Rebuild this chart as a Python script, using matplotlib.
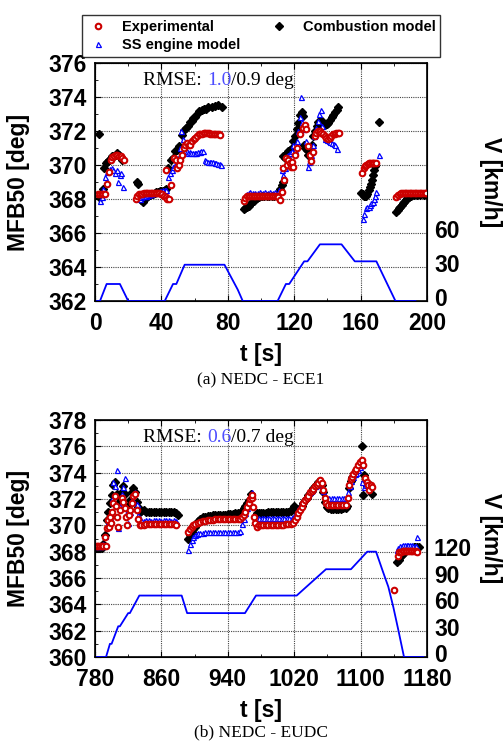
import matplotlib.pyplot as plt
from matplotlib.ticker import MultipleLocator, FixedLocator
from matplotlib.transforms import ScaledTranslation

# ---- (a) NEDC - ECE1 ----
ece_exp = [(2, 368.3), (3, 368.3), (4, 368.3), (5, 368.3), (6, 368.3), (7.5, 368.9), (8.5, 369.6), (9.5, 370.3),
           (10.5, 370.45), (11.5, 370.5), (12.5, 370.6), (13.5, 370.6), (14.5, 370.55), (15.5, 370.5), (16.5, 370.4),
           (17.5, 370.3),
           (24.5, 368.0), (25.5, 368.2), (26.5, 368.3), (27.5, 368.3), (28.5, 368.3), (29.5, 368.35), (30.5, 368.35),
           (31.5, 368.35), (32.5, 368.35), (33.5, 368.35), (34.5, 368.35), (35.5, 368.35), (36.5, 368.35),
           (37.5, 368.35), (38.5, 368.35), (39.5, 368.3), (40.5, 368.3), (41.5, 368.2), (42.5, 368.1), (43.5, 368.0),
           (44.5, 368.0), (45.8, 368.8),
           (42.8, 369.7), (47.5, 370.4), (48.5, 370.3), (49.5, 369.8), (50.5, 370.0), (51.5, 370.3), (52.5, 370.6),
           (53.5, 371.0), (54.5, 371.2), (55.5, 371.3), (56.5, 371.2), (57.5, 371.2), (58.5, 371.4), (59.5, 371.5),
           (60.5, 371.6), (61.5, 371.7), (62.5, 371.8), (63.5, 371.8), (64.5, 371.85), (65.5, 371.9), (66.5, 371.9),
           (67.5, 371.9), (68.5, 371.9), (69.5, 371.85), (70.5, 371.85), (71.5, 371.85), (72.5, 371.8),
           (73.5, 371.85), (74.5, 371.8), (75.5, 371.75),
           (89.5, 367.9), (90.5, 368.05), (91.5, 368.15), (92.5, 368.2), (93.5, 368.2), (94.5, 368.2), (95.5, 368.2),
           (96.5, 368.2), (97.5, 368.2), (98.5, 368.2), (99.5, 368.2), (100.5, 368.2), (101.5, 368.2), (102.5, 368.2),
           (103.5, 368.2), (104.5, 368.2), (105.5, 368.2), (106.5, 368.2), (107.5, 368.2), (108.5, 368.2),
           (109.5, 368.2), (110.5, 368.1), (111.5, 367.95), (112.5, 368.4),
           (113.3, 369.8), (114, 369.1), (115, 370.4), (115.7, 370.0), (116.5, 370.3), (117.3, 370.1), (118, 369.9),
           (118.8, 370.2), (119.5, 369.9), (120.4, 370.6), (121.4, 371.0), (123.4, 371.8), (125, 372.2),
           (126.4, 372.35), (127.4, 372.1), (128.4, 371.1), (129.4, 370.6), (130.4, 370.25), (131.4, 370.75),
           (132.4, 371.7), (133.4, 371.9), (134.4, 372.0), (135.4, 372.0), (136.4, 371.9), (137.4, 371.8),
           (138.4, 371.7), (139.4, 371.6), (140.4, 371.5), (141.4, 371.6), (142.4, 371.7), (143.4, 371.8),
           (144.4, 371.85), (145.4, 371.9), (146.4, 371.9), (147.2, 371.9),
           (161, 369.5), (161.8, 369.8), (162.6, 369.95), (163.4, 370.0), (164.2, 370.05), (165, 370.1),
           (165.8, 370.1), (166.6, 370.1), (167.4, 370.1), (168.2, 370.1), (169, 370.1),
           (181.3, 368.1), (182.5, 368.25), (183.5, 368.3), (184.5, 368.35), (185.5, 368.35), (186.5, 368.35),
           (187.5, 368.35), (188.5, 368.35), (189.5, 368.35), (190.5, 368.35), (191.5, 368.35), (192.5, 368.35),
           (193.5, 368.35), (194.5, 368.35), (195.5, 368.35), (196.5, 368.35), (197.5, 368.35), (198.5, 368.35),
           (199.5, 368.35)]

ece_comb = [(2.5, 371.8), (3, 368.05), (4, 368.3), (5, 368.6), (5.6, 369.8), (6.5, 370.1), (7.5, 370.2), (8.5, 370.3),
            (9.5, 370.4), (10.5, 370.5), (11.5, 370.55), (12.5, 370.6), (13.5, 370.7), (14.5, 370.6),
            (15.5, 370.45), (16.5, 370.3),
            (25, 369.0), (26, 368.9), (28, 367.95), (29, 367.85), (30, 368.0), (31, 368.1), (32, 368.2),
            (33, 368.25), (34, 368.3), (35, 368.3), (36, 368.35), (37, 368.4), (38, 368.4), (39, 368.45),
            (40, 368.45), (41, 368.45), (42, 368.5), (43, 368.6),
            (44.2, 369.8), (45.6, 370.3), (47.2, 370.4), (48.2, 370.8), (49.6, 370.9), (50.8, 371.1), (52.2, 371.75),
            (53.6, 372.05), (54.8, 372.15), (56.2, 372.3), (57.2, 372.5), (58.2, 372.6), (59.2, 372.75),
            (60.2, 372.8), (61.2, 373.0), (62.6, 373.2), (64.3, 373.25), (65.7, 373.3), (66.9, 373.3),
            (68.3, 373.4), (70.3, 373.4), (72.3, 373.45), (74.3, 373.5), (76.3, 373.4),
            (89.5, 367.4), (90.5, 367.45), (91.5, 367.5), (92.5, 367.6), (93.5, 367.7), (94.5, 367.8), (95.5, 367.9),
            (96.5, 368.0), (97.5, 368.05), (98.5, 368.1), (99.5, 368.15), (100.5, 368.2), (102, 368.2),
            (103.5, 368.2), (105, 368.2), (106.5, 368.2), (108, 368.2), (109.5, 368.25), (110.5, 368.35),
            (111.5, 368.6), (112.5, 368.8), (113.2, 369.0),
            (113.5, 370.5), (114.5, 370.4), (115.5, 370.7), (116.5, 370.8), (117.5, 370.9), (118.5, 371.0),
            (119.5, 371.4), (120.5, 371.7), (121.5, 372.1), (122.5, 372.45), (123.5, 372.95), (124.5, 373.1),
            (125.5, 372.9), (125.8, 371.2), (126.5, 371.0), (127.5, 370.9), (128.5, 370.6), (129.5, 370.9),
            (130.5, 371.2), (131.5, 371.7), (132.5, 372.0), (133.5, 372.3), (134.5, 372.55), (135.5, 372.6),
            (136.5, 372.6), (137.5, 372.45), (138.5, 372.35), (139.5, 372.4), (140.5, 372.45), (141.5, 372.65),
            (142.5, 372.8), (143.5, 372.95), (144.5, 373.1), (145.5, 373.25), (146.5, 373.4),
            (160.5, 368.35), (161.3, 368.3), (162, 368.2), (162.7, 368.15), (163.4, 368.2), (164.1, 368.3),
            (164.8, 368.5), (165.5, 368.7), (166.2, 368.9), (166.9, 369.1), (167.6, 369.4), (168.2, 369.7),
            (168.8, 369.95), (171.3, 372.55),
            (181.5, 367.25), (182.3, 367.35), (183.1, 367.45), (183.9, 367.55), (184.7, 367.65), (185.5, 367.75),
            (186.3, 367.85), (187.1, 367.95), (188, 368.05), (189, 368.1), (190.5, 368.2), (192, 368.25),
            (194, 368.25), (196, 368.25), (198, 368.25), (200, 368.25)]

ece_ss = [(3, 367.9), (4, 368.1), (5, 368.6), (6, 369.3), (7, 369.6), (8, 369.65), (9, 369.75), (10, 369.8),
          (11, 369.7), (12, 369.5), (13, 369.7), (14, 369.0), (15, 369.4), (15.6, 369.55), (17, 368.7),
          (27, 368.0), (28, 368.1), (29, 368.15), (30, 368.2), (31, 368.2), (32, 368.25), (33, 368.3), (34, 368.3),
          (35, 368.35), (36, 368.35), (37, 368.4), (38, 368.4), (39, 368.45), (40, 368.45), (41, 368.5),
          (42, 368.5), (43, 368.55),
          (44.2, 369.3), (45.2, 369.5), (46.2, 369.7), (47.2, 369.9), (48.2, 370.0), (49.2, 370.1), (50.2, 370.4),
          (51.2, 371.0), (52, 372.0), (52.8, 371.5), (53.6, 371.1), (54.4, 370.9), (55.2, 370.8), (56, 370.7),
          (57, 370.75), (58, 370.7), (59, 370.7), (60, 370.7), (61, 370.7), (62, 370.75), (63, 370.75),
          (64, 370.85), (65, 370.8), (66, 370.3), (67, 370.25), (68, 370.2), (69, 370.2), (70, 370.15),
          (71, 370.15), (72, 370.1), (73, 370.1), (74, 370.05), (75, 370.05), (76, 370.0),
          (89.5, 368.1), (90.5, 368.2), (91.5, 368.3), (92.5, 368.35), (93.5, 368.4), (95, 368.35), (96.5, 368.35),
          (98, 368.35), (99.5, 368.4), (101, 368.35), (102.5, 368.4), (104, 368.35), (105.5, 368.4), (107, 368.35),
          (108.5, 368.4), (110, 368.35), (111, 368.5),
          (112.5, 369.7), (113.4, 369.4), (114.4, 369.85), (115.4, 370.5), (116.4, 370.6), (117.4, 370.7),
          (118.4, 370.8), (119.4, 371.2), (120.4, 370.9), (121.4, 371.4), (122.4, 372.0), (123.4, 372.8),
          (124.3, 374.0), (124.9, 372.5), (125.6, 372.1), (126.5, 372.3), (127.3, 371.4), (128.3, 369.9),
          (129.2, 370.2), (130.2, 370.6), (131.2, 371.2), (132.2, 371.7), (133.2, 372.2), (134.2, 372.6),
          (135.2, 373.0), (135.9, 373.25), (136.8, 372.3), (137.8, 371.8), (138.8, 371.5), (139.8, 371.45),
          (140.8, 371.4), (141.8, 371.35), (142.8, 371.3), (143.8, 371.25), (144.8, 371.2), (146, 370.95),
          (171.3, 370.6),
          (161.2, 366.8), (162.2, 367.1), (163.2, 367.45), (164, 367.5), (164.8, 367.55), (165.6, 367.65),
          (166.4, 367.75), (167.2, 367.85), (168, 368.0), (168.7, 368.2), (169.5, 368.4),
          (181.5, 368.2), (182.5, 368.3), (184, 368.35), (186, 368.4), (188, 368.4), (190, 368.4), (192, 368.4),
          (194, 368.4), (196, 368.4), (198, 368.4), (200, 368.4)]

ece_speed_t = [0, 3, 7, 15, 20, 42, 47, 49, 54, 78, 86, 89, 110, 115, 117, 126, 128, 135.5, 148.5, 156.5, 169.5, 181, 193]
ece_speed = [0, 0, 15, 15, 0, 0, 15, 15, 32, 32, 10, 0, 0, 15, 15, 35, 35, 50, 50, 35, 35, 0, 0]

# ---- (b) NEDC - EUDC ----
eudc_exp = [(780, 368.4), (782, 368.4), (784, 368.4), (786, 368.4), (788, 368.4), (790, 368.4), (792, 369.1),
            (793, 368.4), (794, 369.8), (796, 370.4), (797, 369.9), (798, 370.65), (799, 370.2), (800, 371.0),
            (802, 371.7), (804, 372.2), (805, 371.5), (807, 370.65), (808, 369.9), (810, 371.2), (812, 372.05),
            (814, 371.8), (816, 371.3), (817, 370.6), (819, 370.0), (821, 370.8), (822, 371.2), (824, 371.7),
            (826, 372.2), (828, 372.4), (830, 371.2), (832, 370.5), (834, 370.0),
            (836, 370.05), (839, 370.05), (842, 370.1), (845, 370.1), (848, 370.1), (851, 370.1), (854, 370.1),
            (857, 370.1), (860, 370.1), (863, 370.1), (866, 370.1), (869, 370.1), (872, 370.1), (875, 370.1),
            (878, 370.05),
            (892.6, 369.5), (894.6, 369.75), (896.6, 369.9), (898.6, 370.0), (901, 370.1), (904, 370.2),
            (907, 370.25), (910, 370.3), (913, 370.35), (916, 370.4), (919, 370.4), (922, 370.4), (925, 370.45),
            (928, 370.45), (931, 370.45), (934, 370.45), (937, 370.45), (940, 370.45), (943, 370.45),
            (946, 370.45), (949, 370.45), (952, 370.5), (955, 370.5), (957, 370.6), (959, 370.8), (961, 371.0),
            (963, 371.4), (965, 371.7), (967, 372.0), (968.8, 372.1), (969.5, 372.3), (970.7, 371.4),
            (971.6, 370.65), (973, 370.2), (974.8, 369.9), (977, 370.0), (980, 370.0), (983, 370.0),
            (986, 370.05), (989, 370.05), (992, 370.05), (995, 370.05), (998, 370.05), (1001, 370.05),
            (1004, 370.05), (1007, 370.05), (1010, 370.1), (1013, 370.1), (1016, 370.1), (1019, 370.15),
            (1021, 370.4), (1023, 370.65), (1025, 370.9), (1027, 371.15), (1029, 371.4), (1031, 371.7),
            (1033, 371.9), (1035, 372.05), (1037, 372.25), (1039, 372.5), (1041, 372.6), (1043, 372.75),
            (1045, 373.0), (1047, 373.1), (1049, 373.25), (1051, 373.45), (1053, 373.2), (1055, 372.7),
            (1057, 372.05), (1058.3, 371.7), (1061, 371.55), (1064, 371.55), (1067, 371.55), (1070, 371.55),
            (1073, 371.55), (1076, 371.55), (1079, 371.55), (1082, 371.55), (1085, 372.1), (1086.4, 373.1),
            (1088, 373.5), (1089.3, 373.7), (1091, 373.9), (1093.2, 374.1), (1095, 374.3), (1097.2, 374.6),
            (1099, 374.8), (1101.3, 374.95), (1103, 374.6), (1105.3, 373.6), (1107.3, 373.3), (1109.3, 373.05),
            (1110.5, 372.7), (1112, 373.1), (1113.4, 372.9),
            (1140.2, 365.1),
            (1145.4, 367.7), (1146.5, 368.0), (1148.5, 368.0), (1150.5, 368.05), (1152.5, 368.05),
            (1154.5, 368.05), (1156.5, 368.05), (1158.5, 368.05), (1160.5, 368.05), (1162.5, 368.05),
            (1164.5, 368.05), (1166.5, 368.05), (1168.5, 368.0)]

eudc_comb = [(780, 368.3), (782, 368.3), (784, 368.3), (786, 368.3), (788, 368.3), (790, 368.6), (792, 369.3),
             (794, 370.4), (796, 371.0), (798, 371.7), (800, 372.3), (802, 373.05), (804, 373.3), (806, 372.4),
             (808, 371.7), (810, 372.1), (812, 372.55), (814, 372.95), (816, 372.4), (818, 371.4), (820, 371.5),
             (822, 371.9), (824, 372.55), (826, 372.8), (828, 372.5), (830, 371.8), (832, 371.4), (834, 371.05),
             (836, 371.1), (839, 371.15), (842, 371.0), (845, 371.0), (848, 371.05), (851, 371.0), (854, 371.0),
             (857, 371.05), (860, 371.0), (863, 371.0), (866, 371.05), (869, 371.0), (872, 371.0), (875, 371.0),
             (878, 370.95), (880.5, 370.8),
             (892.6, 369.0), (894.6, 369.25), (896.6, 369.5), (898.6, 369.7), (900.6, 369.9), (902.6, 370.1),
             (904.6, 370.3), (907, 370.45), (910, 370.6), (913, 370.65), (916, 370.7), (919, 370.7),
             (922, 370.75), (925, 370.75), (928, 370.8), (931, 370.8), (934, 370.8), (937, 370.8), (940, 370.85),
             (943, 370.85), (946, 370.85), (949, 370.9), (952, 370.9), (955, 370.95), (957, 371.1), (959, 371.3),
             (961, 371.45), (963, 371.7), (965, 371.9), (967.7, 372.4),
             (974.8, 370.9), (977, 370.9), (980, 370.95), (983, 370.95), (986, 370.95), (989, 371.0),
             (992, 371.0), (995, 371.0), (998, 371.0), (1001, 371.0), (1004, 371.0), (1007, 371.0),
             (1010, 371.05), (1013, 371.05), (1016, 371.1), (1019, 371.3), (1020, 371.5), (1021.5, 371.35),
             (1023, 371.0), (1025, 371.1), (1027, 371.3), (1029, 371.5), (1031, 371.7), (1033, 371.9),
             (1035, 372.1), (1037, 372.3), (1039, 372.45), (1041, 372.6), (1043, 372.8), (1045, 373.0),
             (1047, 373.15), (1049, 373.3), (1051, 373.4), (1053, 373.1), (1055, 372.5), (1057, 371.8),
             (1059, 371.4), (1061, 371.3), (1064, 371.25), (1067, 371.25), (1070, 371.25), (1073, 371.25),
             (1076, 371.25), (1079, 371.3), (1082, 371.3), (1084, 371.5), (1086, 372.8), (1088, 373.4),
             (1090, 373.7), (1092, 373.9), (1094, 374.1), (1096, 374.3), (1098, 374.5), (1100, 374.7),
             (1101.3, 376.0), (1103.2, 372.3), (1104, 373.8), (1106, 373.2), (1108, 373.0), (1110, 373.1),
             (1111.3, 373.05), (1113.4, 372.4),
             (1143.8, 367.2), (1145.8, 367.4), (1147.8, 367.6), (1149.8, 367.75), (1151.8, 367.9),
             (1153.8, 368.05), (1155.9, 368.2), (1158, 368.25), (1160, 368.3), (1162, 368.3), (1164, 368.35),
             (1166, 368.35), (1168, 368.35), (1170, 368.35)]

eudc_ss = [(780, 368.4), (782, 368.4), (784, 368.4), (786, 368.4), (788, 368.4), (790, 368.6), (792, 369.2),
           (794, 369.9), (796, 370.3), (798, 370.6), (800, 372.0), (802, 373.3), (804, 373.0), (806, 374.2),
           (808, 369.8), (810, 371.5), (812, 372.4), (814, 372.9), (816, 373.6), (818, 371.0), (820, 370.2),
           (822, 371.0), (824, 372.0), (826, 372.4), (828, 372.55), (830, 371.6), (832, 370.8), (834, 370.45),
           (836, 370.4), (839, 370.35), (842, 370.4), (845, 370.4), (848, 370.35), (851, 370.4), (854, 370.4),
           (857, 370.4), (860, 370.35), (863, 370.4), (866, 370.4), (869, 370.4), (872, 370.35), (875, 370.4),
           (878, 370.35),
           (892.6, 368.1), (894.6, 368.6), (896.6, 368.9), (898.6, 369.1), (900.6, 369.3), (902.6, 369.35),
           (904.6, 369.4), (907, 369.45), (910, 369.45), (913, 369.5), (916, 369.5), (919, 369.5), (922, 369.5),
           (925, 369.5), (928, 369.5), (931, 369.5), (934, 369.5), (937, 369.5), (940, 369.5), (943, 369.5),
           (946, 369.5), (949, 369.5), (952, 369.5), (955, 369.55), (957, 370.1), (959, 370.5), (961, 370.9),
           (963, 371.3), (965, 371.65), (967.7, 372.4), (969, 372.5),
           (972.8, 370.6), (975, 370.55), (978, 370.55), (981, 370.55), (984, 370.55), (987, 370.55),
           (990, 370.55), (993, 370.55), (996, 370.55), (999, 370.55), (1002, 370.55), (1005, 370.55),
           (1008, 370.55), (1011, 370.55), (1014, 370.55), (1017, 370.55), (1019, 370.6), (1021, 370.75),
           (1023, 371.0), (1025, 371.25), (1027, 371.5), (1029, 371.7), (1031, 371.9), (1033, 372.1),
           (1035, 372.25), (1037, 372.4), (1039, 372.55), (1041, 372.7), (1043, 372.85), (1045, 373.0),
           (1047, 373.1), (1049, 373.2), (1051, 373.3), (1053, 373.0), (1055, 372.6), (1057, 372.2),
           (1059, 372.05), (1062, 372.05), (1065, 372.05), (1068, 372.05), (1071, 372.05), (1074, 372.05),
           (1077, 372.05), (1080, 372.05), (1083, 372.05), (1085, 372.5), (1087, 373.0), (1089, 373.4),
           (1091, 373.7), (1093, 373.9), (1095, 374.0), (1097, 374.2), (1099, 374.4), (1101.3, 374.6),
           (1102, 373.3), (1104, 372.9), (1106, 373.1), (1108, 373.2),
           (1143.5, 368.1), (1145.5, 368.25), (1147.4, 368.4), (1149.4, 368.45), (1151.4, 368.5),
           (1153.4, 368.5), (1155.4, 368.5), (1157.4, 368.5), (1159.4, 368.5), (1161.4, 368.5),
           (1163.4, 368.45), (1165.4, 368.45), (1167, 368.45), (1168.4, 369.1)]

eudc_speed_t = [780, 793.3, 798, 800, 808, 810, 820, 822, 833.4, 884.4, 891, 960.7, 974, 1023, 1058.3, 1088.4,
                1108, 1118.6, 1127, 1133.4, 1139.4, 1145.4, 1152.3, 1175.5]
eudc_speed = [0, 0, 15, 15, 35, 35, 50, 50, 70, 70, 50, 50, 70, 70, 100, 100, 120, 120, 97, 80, 57, 31, 0, 0]

ece_xticks = [0, 40, 80, 120, 160, 200]
eudc_xticks = [780, 860, 940, 1020, 1100, 1180]

SANS = 'Liberation Sans'
SERIF = 'Liberation Serif'
FS = 16.5


def draw_panel(fig, ax, exp, comb, ss, sp_t, sp_v, xticks, ylim, vmax, vticks, rmse):
    t, v = zip(*comb)
    ax.plot(t, v, ls='none', marker='D', ms=3.6, color='black', zorder=3)
    t, v = zip(*ss)
    ax.plot(t, v, ls='none', marker='^', ms=3.6, mfc='white', mec='#0000ff', mew=0.9, zorder=4)
    t, v = zip(*exp)
    ax.plot(t, v, ls='none', marker='o', ms=4.0, mfc='white', mec='#cc0000', mew=1.5, zorder=5)

    ax.set_xlim(xticks[0], xticks[-1])
    ax.set_ylim(*ylim)
    step = xticks[1] - xticks[0]
    ax.xaxis.set_major_locator(FixedLocator(xticks))
    ax.xaxis.set_minor_locator(FixedLocator([x + step / 2 for x in xticks[:-1]]))
    ax.yaxis.set_major_locator(MultipleLocator(2))
    ax.yaxis.set_minor_locator(MultipleLocator(1))
    ax.grid(True, which='major', color='#444444', linestyle=(0, (1, 1)), linewidth=0.8)
    ax.tick_params(which='both', direction='in', top=True, right=True, labelsize=FS, pad=6)
    ax.tick_params(axis='x', pad=8)
    ax.tick_params(which='major', length=4)
    ax.tick_params(which='minor', length=2.5)
    for lab in ax.get_xticklabels() + ax.get_yticklabels():
        lab.set_fontweight('bold')
        lab.set_family(SANS)
    for s in ax.spines.values():
        s.set_linewidth(1.2)
    ax.set_xlabel('t [s]', fontsize=FS, fontweight='bold', family=SANS, labelpad=6)
    ax.set_ylabel('MFB50 [deg]', fontsize=FS, fontweight='bold', family=SANS)
    ax.yaxis.set_label_coords(-0.195, 0.5)

    ax2 = ax.twinx()
    ax2.plot(sp_t, sp_v, color='#0000ff', lw=1.3)
    ax2.set_ylim(0, vmax)
    ax2.set_yticks(vticks)
    ax2.tick_params(length=0, labelsize=FS, pad=5)
    lift = ScaledTranslation(0, 3 / 72, fig.dpi_scale_trans)
    for lab in ax2.get_yticklabels():
        lab.set_fontweight('bold')
        lab.set_family(SANS)
        lab.set_transform(lab.get_transform() + lift)
    ax2.set_ylabel('V [km/h]', fontsize=FS, fontweight='bold', family=SANS, rotation=270)
    ax2.yaxis.set_label_coords(1.225, 0.5)

    t1 = ax.text(0.145, 0.925, 'RMSE: ', transform=ax.transAxes, fontsize=14, family=SERIF, va='center')
    t2 = ax.annotate(rmse[0], xy=(1, 0), xycoords=t1, va='bottom', fontsize=14, family=SERIF, color='#4d4dff')
    ax.annotate('/' + rmse[1] + ' deg', xy=(1, 0), xycoords=t2, va='bottom', fontsize=14, family=SERIF)
    return ax2


fig = plt.figure(figsize=(5.03, 7.44), dpi=100)
ax_a = fig.add_axes([95 / 503, 1 - 301 / 744, 332 / 503, 238 / 744])
ax_b = fig.add_axes([95 / 503, 1 - 657 / 744, 332 / 503, 237 / 744])

draw_panel(fig, ax_a, ece_exp, ece_comb, ece_ss, ece_speed_t, ece_speed, ece_xticks, (362, 376),
           210, [0, 30, 60], ('1.0', '0.9'))
draw_panel(fig, ax_b, eudc_exp, eudc_comb, eudc_ss, eudc_speed_t, eudc_speed, eudc_xticks, (360, 378),
           270, [0, 30, 60, 90, 120], ('0.6', '0.7'))

fig.text(261 / 503, 1 - 380 / 744, '(a) NEDC - ECE1', ha='center', va='center', fontsize=12.5, family=SERIF)
fig.text(261 / 503, 1 - 732 / 744, '(b) NEDC - EUDC', ha='center', va='center', fontsize=12.5, family=SERIF)

h1, = ax_a.plot([], [], ls='none', marker='o', ms=4.0, mfc='white', mec='#cc0000', mew=1.5)
h2, = ax_a.plot([], [], ls='none', marker='^', ms=3.6, mfc='white', mec='#0000ff', mew=0.9)
h3, = ax_a.plot([], [], ls='none', marker='D', ms=3.6, color='black')
leg = fig.legend([h1, h2, h3], ['Experimental', 'SS engine model', 'Combustion model'], ncol=2,
                 loc='upper center', bbox_to_anchor=(261 / 503, 1 - 8 / 744), frameon=True, fancybox=False,
                 edgecolor='black', prop={'family': SANS, 'weight': 'bold', 'size': 10.5},
                 handlelength=1.6, columnspacing=1.9, borderpad=0.35, labelspacing=0.25)
leg.get_frame().set_linewidth(1.0)

fig.savefig('out.png', dpi=100)
